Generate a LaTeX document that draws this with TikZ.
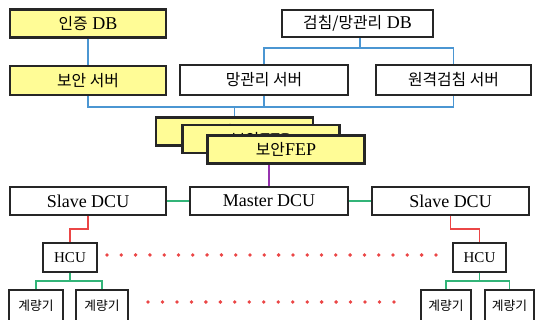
\documentclass[tikz,border=0pt]{standalone}
\usepackage{fontspec}
\setmainfont{Liberation Serif}
\newfontfamily\kr[Scale=0.88]{Noto Sans CJK KR}
\definecolor{netblue}{RGB}{75,150,210}
\definecolor{lnkgreen}{RGB}{50,180,120}
\definecolor{lnkred}{RGB}{235,70,70}
\definecolor{lnkpurple}{RGB}{150,50,175}
\definecolor{secyellow}{RGB}{255,252,150}
\begin{document}
\begin{tikzpicture}[x=1pt,y=-1pt,
	box/.style={draw=black!85,line width=1.6pt,fill=white,inner sep=0pt,
		minimum height=28pt,font=\fontsize{18}{20}\selectfont},
	ybox/.style={box,fill=secyellow,line width=2.5pt},
	hbox/.style={box,minimum height=29pt,font=\fontsize{15}{17}\selectfont},
	mbox/.style={box,minimum height=31pt,font=\fontsize{14.5}{16}\selectfont},
	bline/.style={netblue,line width=1.7pt},
	gline/.style={lnkgreen,line width=1.7pt},
	rline/.style={lnkred,line width=1.7pt}]
\useasboundingbox (0,0) rectangle (536,320);
%servers and DBs
\path (88,23.5) node[ybox,minimum width=156pt] (authdb) {{\kr 인증} DB};
\path (88,80.5) node[ybox,minimum width=156pt,minimum height=29pt] (secsrv) {\kr 보안 서버};
\path (357.5,23.5) node[box,minimum width=151pt,minimum height=27pt] (meterdb) {{\kr 검침/망관리} DB};
\path (264,80) node[box,minimum width=168pt,minimum height=30pt] (netsrv) {\kr 망관리 서버};
\path (453.5,80) node[box,minimum width=155pt,minimum height=30pt] (remsrv) {\kr 원격검침 서버};
%FEP stack
\path (234.5,131.5) node[ybox,minimum width=157pt] (fepa) {{\kr 보안}FEP};
\path (261,139) node[ybox,minimum width=157pt] (fepb) {{\kr 보안}FEP};
\path (286,149.5) node[ybox,minimum width=157pt] (fepc) {{\kr 보안}FEP};
%DCUs
\path (88,201) node[box,minimum width=156pt] (slavel) {Slave DCU};
\path (269,201) node[box,minimum width=158pt] (master) {Master DCU};
\path (450.5,201) node[box,minimum width=157pt] (slaver) {Slave DCU};
%HCUs and meters
\path (70,257.5) node[hbox,minimum width=54pt] (hcul) {HCU};
\path (479.5,257.5) node[hbox,minimum width=53pt] (hcur) {HCU};
\path (36,305.5) node[mbox,minimum width=54pt] (meta) {\kr 계량기};
\path (102,305.5) node[mbox,minimum width=52pt] (metb) {\kr 계량기};
\path (446,305.5) node[mbox,minimum width=50pt] (metc) {\kr 계량기};
\path (509.5,305.5) node[mbox,minimum width=49pt] (metd) {\kr 계량기};

%blue network
\coordinate (tbus) at (360,48);
\coordinate (bbus) at (234.5,107);
\draw[bline] (authdb) -- (secsrv);
\draw[bline] (meterdb.south -| tbus) -- (tbus);
\draw[bline] (netsrv.north) |- (tbus) -| (remsrv.north);
\draw[bline] (secsrv.south) |- (bbus) -| (remsrv.south);
\draw[bline] (netsrv.south) -- (netsrv.south |- bbus);
\draw[bline] (bbus) -- (fepa.north);
\draw[lnkpurple,line width=1.7pt] (master.north) -- (master.north |- fepc.south);
%DCU links
\draw[gline] (slavel) -- (master);
\draw[gline] (master) -- (slaver);
\draw[rline] (slavel.south) -- ++(0,13) -| (hcul.north);
\draw[rline] (slaver.south) -- ++(0,13.5) -| (hcur.north);
\draw[gline] (hcul.south) -- ++(0,8) coordinate (jl);
\draw[gline] (meta.north) |- (jl) -| (metb.north);
\draw[gline] (hcur.south) -- ++(0,8) coordinate (jr);
\draw[gline] (metc.north) |- (jr) -| (metd.north);
%dots
\foreach \i in {0,...,23}
	\fill[lnkred] (107+14.3*\i,255) circle (1.9pt);
\foreach \i in {0,...,17}
	\fill[lnkred] (148+14.47*\i,302) circle (1.9pt);
\end{tikzpicture}
\end{document}
